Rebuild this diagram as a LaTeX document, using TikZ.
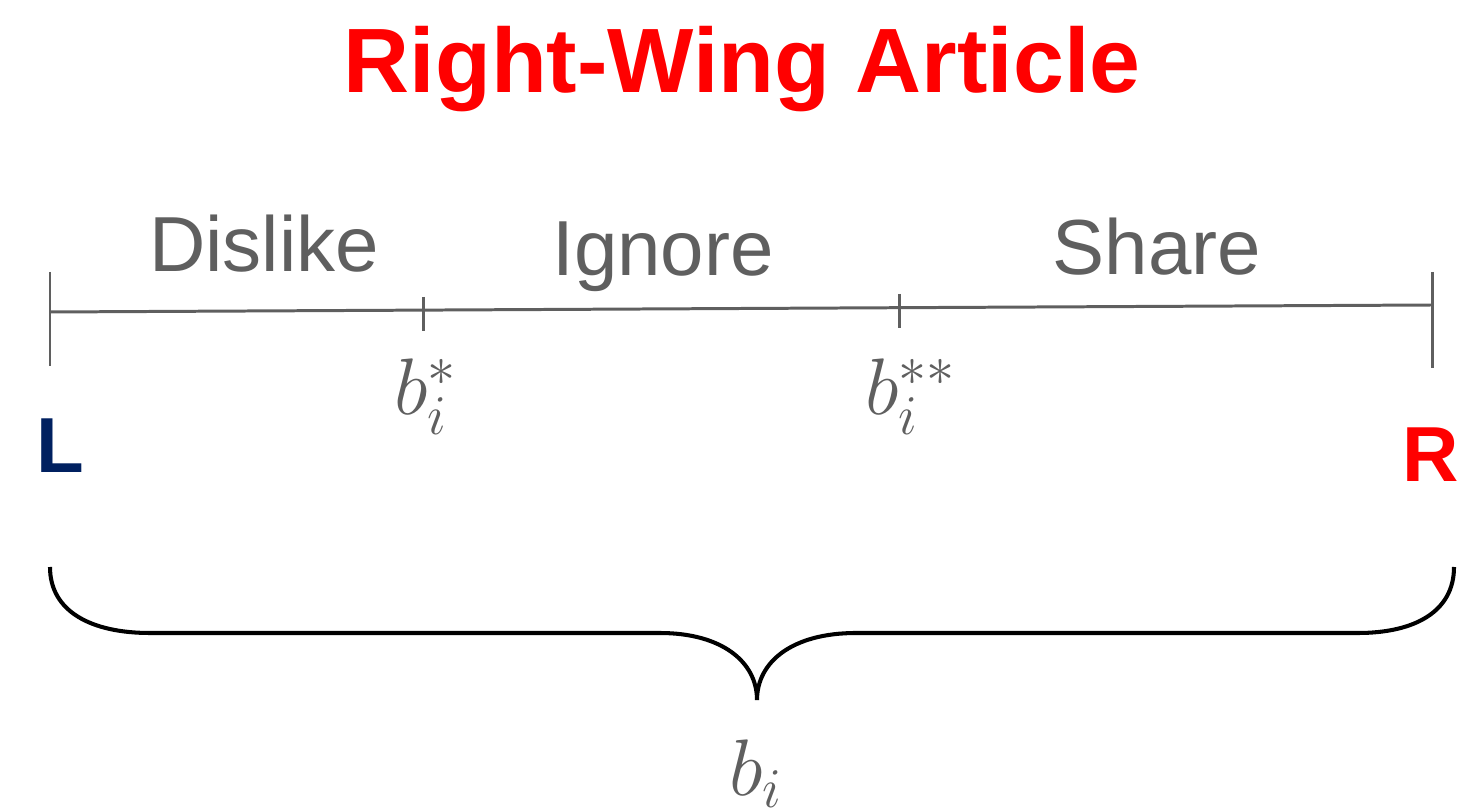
\documentclass[tikz,border=0pt]{standalone}
\usepackage{fix-cm}
\usepackage{fontspec}
\setmainfont{Liberation Sans}
\definecolor{axisgray}{HTML}{5F5F5F}
\definecolor{leftblue}{HTML}{002060}
\definecolor{rightred}{HTML}{FF0000}
\begin{document}
\begin{tikzpicture}[
    x=0.01cm, y=-0.01cm,
    every node/.style={inner sep=0pt, outer sep=0pt},
    title/.style={anchor=base, text=rightred, font=\fontsize{26}{30}\selectfont\bfseries},
    region/.style={anchor=base, text=axisgray, font=\fontsize{22.2}{26}\selectfont},
    cut/.style={anchor=base west, text=axisgray, font=\fontsize{22.8}{26}\selectfont},
    side/.style={font=\fontsize{22.2}{26}\selectfont\bfseries},
    axis/.style={draw=axisgray, line width=0.85pt},
    curly/.style={draw=black, line width=1.15pt}
]
\useasboundingbox (0,0) rectangle (1461,810);

\node[title] (head) at (742,93) {Right-Wing Article};

% axis with its cut points
\coordinate (lo) at (50,312);
\coordinate (hi) at (1432,305);
\coordinate (bs) at (423,311);
\coordinate (bss) at (899,308);
\draw[axis] (lo) -- (hi);
\draw[axis] (lo) ++(0,-40) -- ++(0,94);
\draw[axis] (hi) ++(0,-33) -- ++(0,96);
\draw[axis] (bs) ++(0,-14) -- ++(0,34);
\draw[axis] (bss) ++(0,-14) -- ++(0,34);

\node[region] (dislike) at (264,272) {Dislike};
\node[region] (ignore) at (663,276) {Ignore};
\node[region] (share) at (1157,275) {Share};

\node[cut] (bone) at (394,415) {$b_i^{*}$};
\node[cut] (btwo) at (865,415) {$b_i^{**}$};

\node[side, anchor=base west, text=leftblue] (lft) at (37,473) {L};
\node[side, anchor=base east, text=rightred] (rgt) at (1459,482) {R};

% brace under the axis
\draw[curly] (50,567) .. controls (50,612) and (92,633) .. (150,633)
    -- (660,633) .. controls (722,633) and (757,662) .. (757,700)
    .. controls (757,662) and (792,633) .. (856,633)
    -- (1358,633) .. controls (1414,633) and (1454,612) .. (1454,567);

\node[cut] (btot) at (729,795) {$b_i$};

\end{tikzpicture}
\end{document}
